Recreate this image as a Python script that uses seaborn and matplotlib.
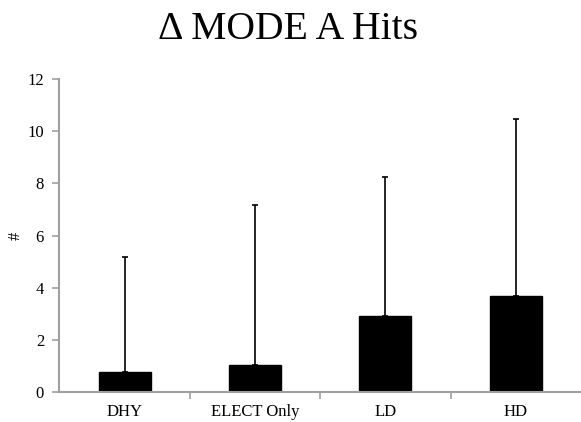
import matplotlib
matplotlib.use("Agg")
import matplotlib.pyplot as plt
import seaborn as sns
import pandas as pd

categories = ["DHY", "ELECT Only", "LD", "HD"]
means = [0.77, 1.03, 2.93, 3.68]
upper_err = [4.39, 6.13, 5.30, 6.78]
yticks = [0, 2, 4, 6, 8, 10, 12]

sns.set_style("white")
plt.rcParams["font.family"] = ["Liberation Serif", "DejaVu Serif"]
plt.rcParams["text.color"] = "black"
plt.rcParams["axes.labelcolor"] = "black"

df = pd.DataFrame({"cat": categories, "val": means})

fig = plt.figure(figsize=(5.81, 4.22), dpi=100)
ax = fig.add_axes([59.4 / 581, (422 - 392) / 422, 1 - 59.4 / 581, (392 - 79) / 422])

sns.barplot(data=df, x="cat", y="val", color="black", width=0.4,
            errorbar=None, ax=ax, saturation=1, edgecolor="black")

xs = list(range(len(categories)))
ax.errorbar(xs, means, yerr=[[0] * len(means), upper_err], fmt="none",
            ecolor="black", elinewidth=1.2, capsize=2, capthick=1.2)

ax.set_xlim(-0.5, 3.5)
ax.set_ylim(0, 12)
ax.set_yticks(yticks)
ax.set_yticklabels([str(t) for t in yticks])
ax.set_xticks(xs)
ax.set_xticks([0.5, 1.5, 2.5], minor=True)
ax.tick_params(axis="x", which="major", length=0, pad=9, labelsize=12, labelcolor="black")
ax.tick_params(axis="x", which="minor", length=5, width=1.2, color="#a0a0a0", bottom=True)
ax.tick_params(axis="y", length=5, width=1.2, color="#a0a0a0", left=True, pad=6,
               labelsize=12, labelcolor="black")

for s in ["top", "right"]:
    ax.spines[s].set_visible(False)
for s in ["left", "bottom"]:
    ax.spines[s].set_color("#a0a0a0")
    ax.spines[s].set_linewidth(1.5)

ax.set_xlabel("")
ax.set_ylabel("")
fig.text(16 / 581, 1 - 236 / 422, "#", rotation=90, fontsize=12, color="black",
         ha="center", va="center")
fig.suptitle("Δ MODE A Hits", fontsize=28.5, x=0.495, y=0.975, color="black")

fig.savefig("out.png", dpi=100)
